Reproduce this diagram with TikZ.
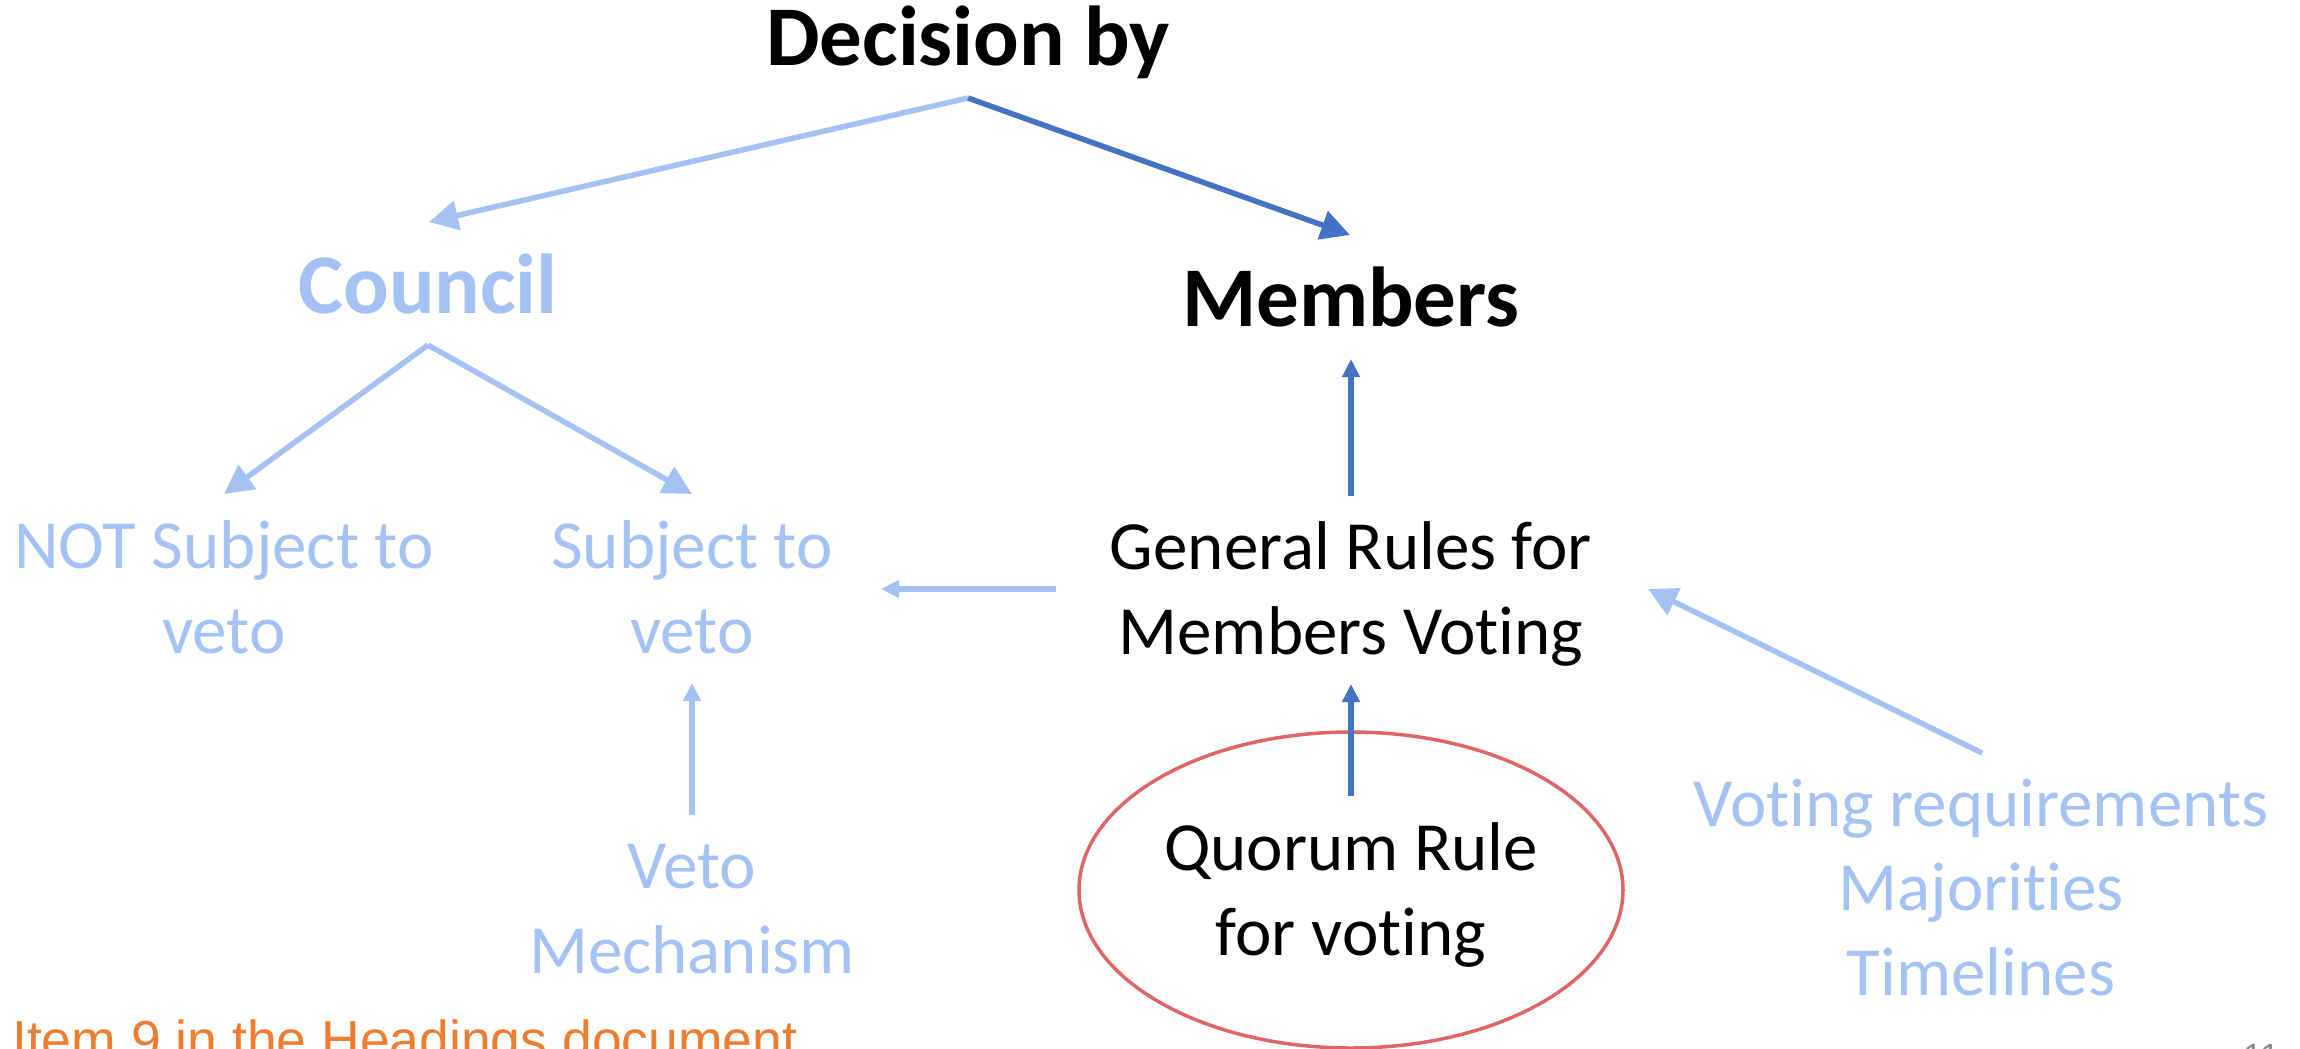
\documentclass[tikz,border=0pt]{standalone}
\usepackage{fontspec}
\setmainfont{Carlito}[Ligatures=TeX, RawFeature={-liga;-clig;-calt;-dlig}]
\newfontfamily\arialfont{Liberation Sans}
\usetikzlibrary{arrows.meta,calc,shapes.geometric}
\definecolor{lightblue}{HTML}{A4C2F4}
\definecolor{darkblue}{HTML}{4472C4}
\definecolor{ellred}{HTML}{E06666}
\definecolor{orangetxt}{HTML}{ED7D31}
\definecolor{pagegrey}{HTML}{8C8C8C}
\tikzset{
  txt/.style={inner sep=0pt, outer sep=0pt, anchor=base, align=center,
    font=\fontsize{69}{84.2}\selectfont},
  lbtxt/.style={txt, text=lightblue},
  bktxt/.style={txt, text=black},
  headtxt/.style={inner sep=0pt, outer sep=0pt, anchor=base,
    font=\bfseries\fontsize{85}{104}\selectfont},
  bigarrow/.style={line width=5.5pt, -{Triangle[length=29pt,width=29pt]}},
  smallarrow/.style={line width=5.8pt, -{Triangle[length=18pt,width=17pt]}},
  lbline/.style={draw=lightblue},
  dbline/.style={draw=darkblue},
}
\begin{document}
\begin{tikzpicture}[x=1pt,y=-1pt]
\fill[white] (0,0) rectangle (2300,1049);
\useasboundingbox (0,0) rectangle (2300,1049);

% text nodes (base = baseline of the last line)
\node[headtxt, text=black] (dec) at (968,66) {Decision by};
\node[headtxt, text=lightblue] (council) at (428,313) {Council};
\node[headtxt, text=black] (members) at (1351,326) {Members};
\node[lbtxt] (notsub) at (224,653) {NOT Subject to\\veto};
\node[lbtxt] (sub) at (692,653) {Subject to\\veto};
\node[bktxt] (gen) at (1351,654) {General Rules for\\Members Voting};
\node[lbtxt] (veto) at (692,973) {Veto\\Mechanism};
\node[bktxt] (quorum) at (1351,955) {Quorum Rule\\for voting};
\node[lbtxt] (voting) at (1981,995) {Voting requirements\\Majorities\\Timelines};
\node[draw=ellred, line width=3.5pt, ellipse, inner sep=0pt,
      minimum width=544pt, minimum height=316pt] (ell) at (1351,890) {};
\node[inner sep=0pt, anchor=base west, text=orangetxt,
      font=\arialfont\fontsize{53.5}{64}\selectfont] (item) at (12,1058)
      {Item 9 in the Headings document};
\node[inner sep=0pt, anchor=base west, text=pagegrey,
      font=\arialfont\fontsize{35}{42}\selectfont] (pnum) at (2243,1068) {11};

% connectors
\draw[bigarrow, lbline] ($(dec.base)+(0,32)$) -- ($(council.base)+(1,-91)$);
\draw[bigarrow, dbline] ($(dec.base)+(0,32)$) -- ($(members.base)+(-1,-91)$);
\draw[bigarrow, lbline] ($(council.base)+(0,32)$) -- ($(notsub.base)+(0,-159)$);
\draw[bigarrow, lbline] ($(council.base)+(0,32)$) -- ($(sub.base)+(0,-159)$);
\draw[smallarrow, lbline] ($(gen.base)+(-295,-65)$) -- ($(sub.base)+(189,-64)$);
\draw[smallarrow, dbline] ($(gen.base)+(0,-158)$) -- ($(members.base)+(0,33)$);
\draw[smallarrow, dbline] ($(quorum.base)+(0,-159)$) -- ($(gen.base)+(0,30)$);
\draw[smallarrow, lbline] ($(veto.base)+(0,-158)$) -- ($(sub.base)+(0,30)$);
\draw[bigarrow, lbline] ($(voting.base)+(1,-242)$) -- ($(gen.base)+(297,-65)$);
\end{tikzpicture}
\end{document}
